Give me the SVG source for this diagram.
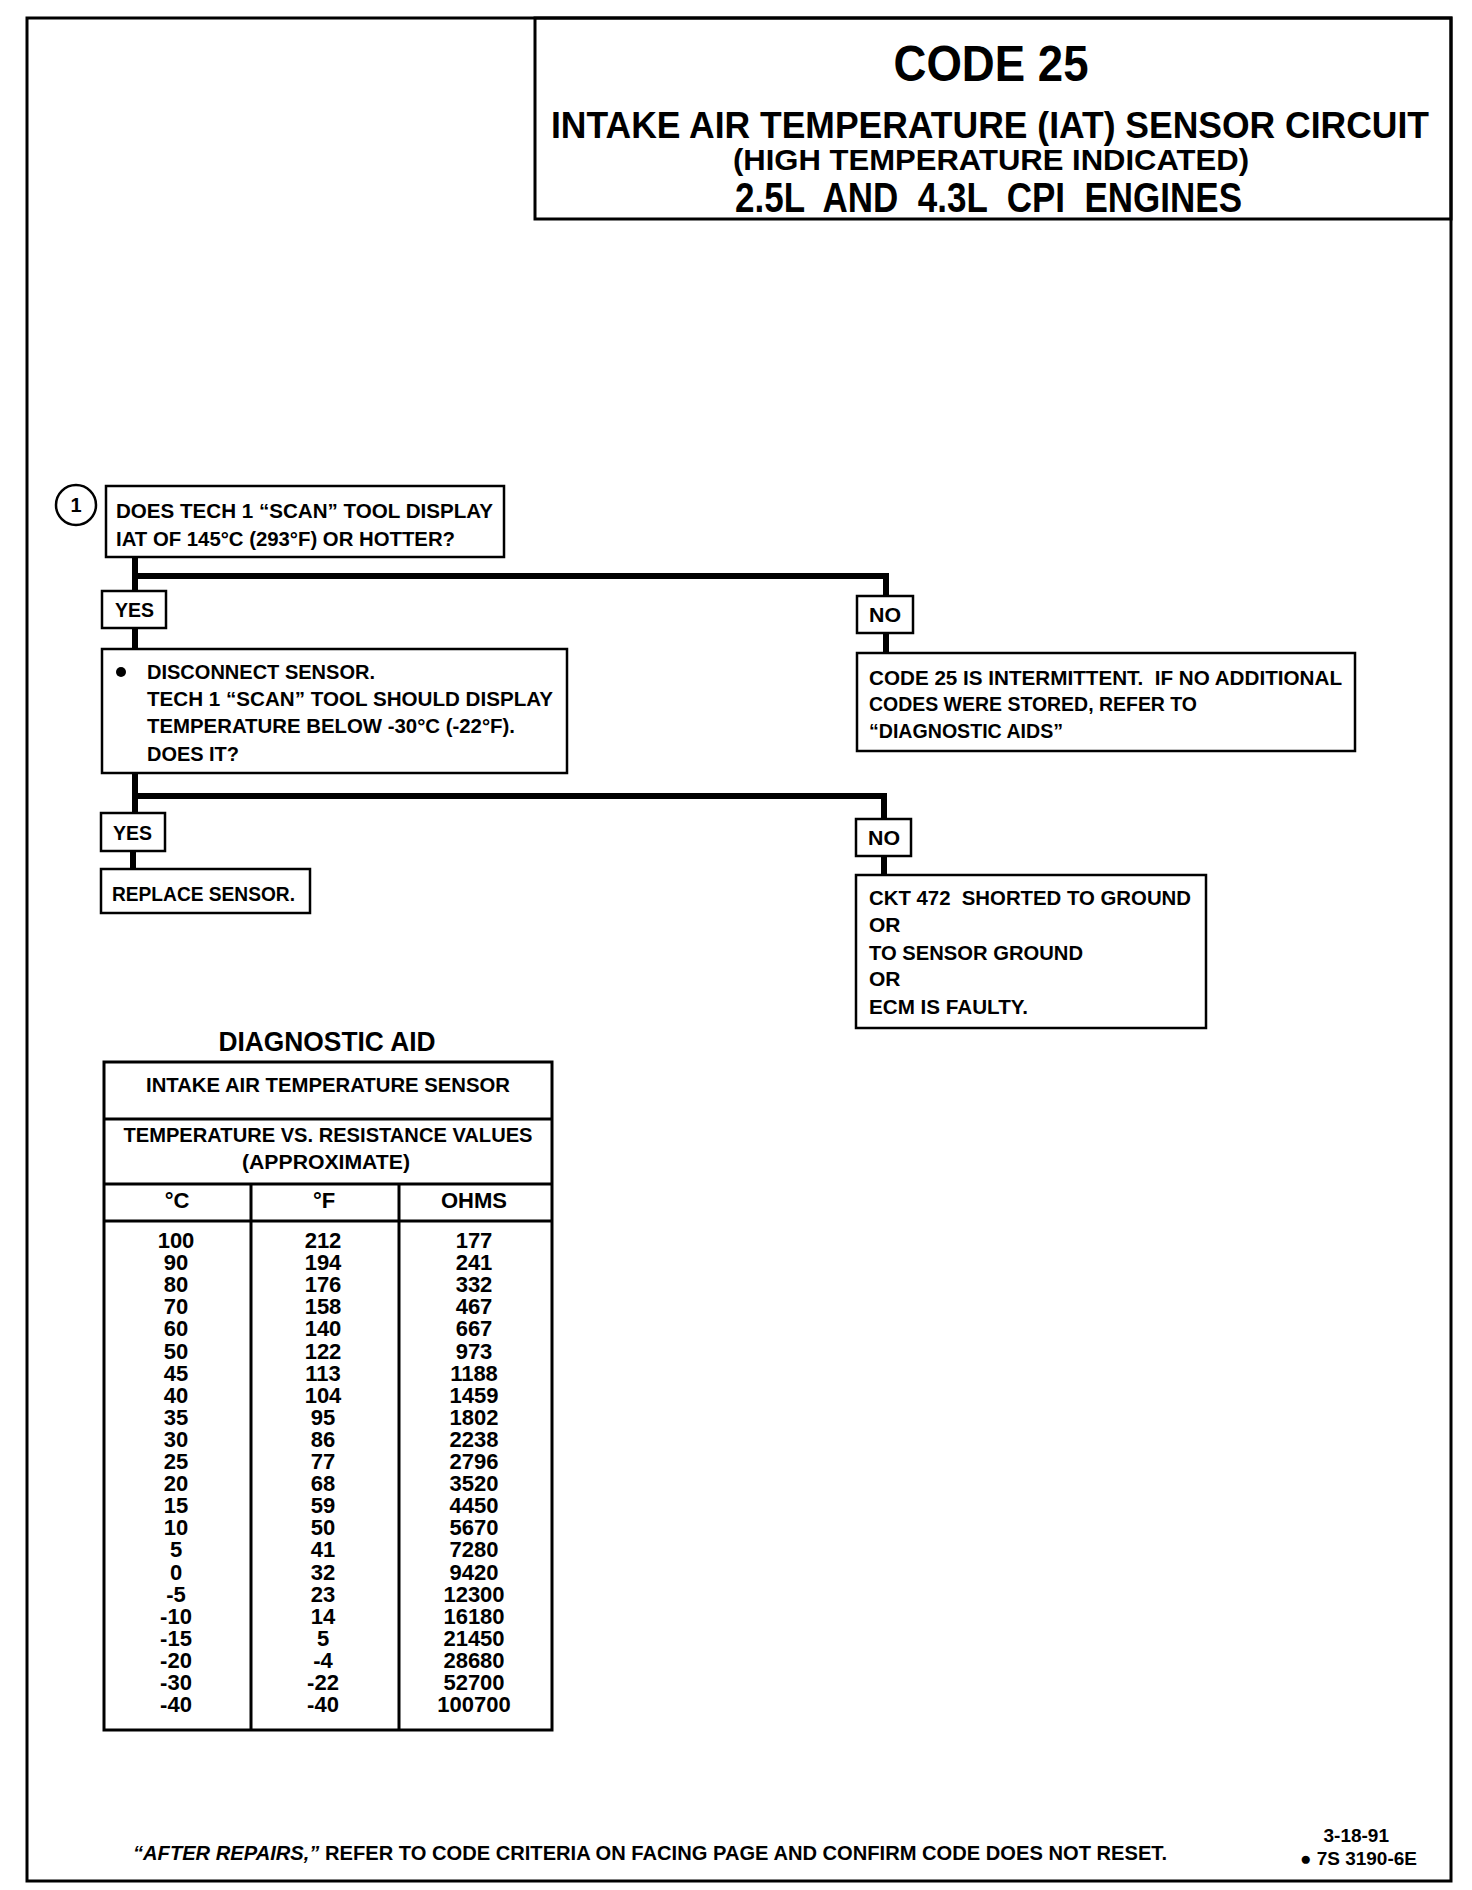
<svg xmlns="http://www.w3.org/2000/svg" width="1472" height="1890" viewBox="0 0 1472 1890">
<style>
text{font-family:"Liberation Sans",Arial,sans-serif;font-weight:bold;fill:#000}
.box{fill:#fff;stroke:#000;stroke-width:2.5}
.con{fill:none;stroke:#000;stroke-width:6}
.b{font-size:21px}
.d{font-size:22px;text-anchor:middle}
.tl{fill:none;stroke:#000;stroke-width:3}
</style>
<rect width="1472" height="1890" fill="#fff"/>
<rect x="27" y="18" width="1424" height="1863" fill="none" stroke="#000" stroke-width="3"/>
<g id="header">
<rect x="535" y="18" width="916" height="201" fill="none" stroke="#000" stroke-width="3"/>
<text x="991" y="81" font-size="50" text-anchor="middle" textLength="195" lengthAdjust="spacingAndGlyphs">CODE 25</text>
<text x="551" y="138" font-size="37" textLength="878" lengthAdjust="spacingAndGlyphs">INTAKE AIR TEMPERATURE (IAT) SENSOR CIRCUIT</text>
<text x="733" y="170" font-size="30" textLength="516" lengthAdjust="spacingAndGlyphs">(HIGH TEMPERATURE INDICATED)</text>
<text x="735" y="212" font-size="42" textLength="507" lengthAdjust="spacingAndGlyphs" xml:space="preserve">2.5L  AND  4.3L  CPI  ENGINES</text>
</g>
<g id="connectors">
<path class="con" d="M135 557 V591 M135 576 H886 V596 M886 633 V653 M135 628 V649 M135 773 V813 M135 796 H884 V819 M884 856 V875 M133 851 V869"/>
</g>
<g id="step1">
<circle cx="76" cy="505" r="20" fill="#fff" stroke="#000" stroke-width="2.5"/>
<text x="76" y="512" font-size="20" text-anchor="middle">1</text>
<rect class="box" x="106" y="486" width="398" height="71"/>
<text class="b" x="116" y="518" textLength="377" lengthAdjust="spacingAndGlyphs">DOES TECH 1 “SCAN” TOOL DISPLAY</text>
<text class="b" x="116" y="546" textLength="339" lengthAdjust="spacingAndGlyphs">IAT OF 145°C (293°F) OR HOTTER?</text>
</g>
<g id="yes1">
<rect class="box" x="102" y="591" width="64" height="37"/>
<text class="b" x="115" y="617" textLength="39" lengthAdjust="spacingAndGlyphs">YES</text>
</g>
<g id="step2">
<rect class="box" x="102" y="649" width="465" height="124"/>
<circle cx="121" cy="672" r="5"/>
<text class="b" x="147" y="679" textLength="228" lengthAdjust="spacingAndGlyphs">DISCONNECT SENSOR.</text>
<text class="b" x="147" y="706" textLength="406" lengthAdjust="spacingAndGlyphs">TECH 1 “SCAN” TOOL SHOULD DISPLAY</text>
<text class="b" x="147" y="733" textLength="368" lengthAdjust="spacingAndGlyphs">TEMPERATURE BELOW -30°C (-22°F).</text>
<text class="b" x="147" y="761" textLength="92" lengthAdjust="spacingAndGlyphs">DOES IT?</text>
</g>
<g id="no1">
<rect class="box" x="857" y="596" width="56" height="37"/>
<text class="b" x="869" y="622" textLength="32" lengthAdjust="spacingAndGlyphs">NO</text>
</g>
<g id="intermittent">
<rect class="box" x="857" y="653" width="498" height="98"/>
<text class="b" x="869" y="685" textLength="473" lengthAdjust="spacingAndGlyphs" xml:space="preserve">CODE 25 IS INTERMITTENT.  IF NO ADDITIONAL</text>
<text class="b" x="869" y="711" textLength="328" lengthAdjust="spacingAndGlyphs">CODES WERE STORED, REFER TO</text>
<text class="b" x="869" y="738" textLength="194" lengthAdjust="spacingAndGlyphs">“DIAGNOSTIC AIDS”</text>
</g>
<g id="yes2">
<rect class="box" x="101" y="813" width="64" height="38"/>
<text class="b" x="113" y="840" textLength="39" lengthAdjust="spacingAndGlyphs">YES</text>
</g>
<g id="replace">
<rect class="box" x="101" y="869" width="209" height="44"/>
<text class="b" x="112" y="901" textLength="183" lengthAdjust="spacingAndGlyphs">REPLACE SENSOR.</text>
</g>
<g id="no2">
<rect class="box" x="856" y="819" width="55" height="37"/>
<text class="b" x="868" y="845" textLength="32" lengthAdjust="spacingAndGlyphs">NO</text>
</g>
<g id="shorted">
<rect class="box" x="856" y="875" width="350" height="153"/>
<text class="b" x="869" y="905" textLength="322" lengthAdjust="spacingAndGlyphs" xml:space="preserve">CKT 472  SHORTED TO GROUND</text>
<text class="b" x="869" y="932">OR</text>
<text class="b" x="869" y="960" textLength="214" lengthAdjust="spacingAndGlyphs">TO SENSOR GROUND</text>
<text class="b" x="869" y="986">OR</text>
<text class="b" x="869" y="1014" textLength="159" lengthAdjust="spacingAndGlyphs">ECM IS FAULTY.</text>
</g>
<g id="diagnostic-aid">
<text x="327" y="1051" font-size="27" text-anchor="middle" textLength="217" lengthAdjust="spacingAndGlyphs">DIAGNOSTIC AID</text>
<rect class="tl" x="104" y="1062" width="448" height="668"/>
<path class="tl" d="M104 1119 H552 M104 1184 H552 M104 1221 H552 M251 1184 V1730 M399 1184 V1730"/>
<text class="b" x="328" y="1092" text-anchor="middle" textLength="364" lengthAdjust="spacingAndGlyphs">INTAKE AIR TEMPERATURE SENSOR</text>
<text class="b" x="328" y="1142" text-anchor="middle" textLength="409" lengthAdjust="spacingAndGlyphs">TEMPERATURE VS. RESISTANCE VALUES</text>
<text class="b" x="326" y="1169" text-anchor="middle" textLength="168" lengthAdjust="spacingAndGlyphs">(APPROXIMATE)</text>
<text class="d" x="177" y="1208" font-size="20">°C</text>
<text class="d" x="324" y="1208" font-size="20">°F</text>
<text class="d" x="474" y="1208" font-size="20">OHMS</text>
<g class="rows">
<text class="d" x="176" y="1248">100</text><text class="d" x="323" y="1248">212</text><text class="d" x="474" y="1248">177</text>
<text class="d" x="176" y="1270">90</text><text class="d" x="323" y="1270">194</text><text class="d" x="474" y="1270">241</text>
<text class="d" x="176" y="1292">80</text><text class="d" x="323" y="1292">176</text><text class="d" x="474" y="1292">332</text>
<text class="d" x="176" y="1314">70</text><text class="d" x="323" y="1314">158</text><text class="d" x="474" y="1314">467</text>
<text class="d" x="176" y="1336">60</text><text class="d" x="323" y="1336">140</text><text class="d" x="474" y="1336">667</text>
<text class="d" x="176" y="1359">50</text><text class="d" x="323" y="1359">122</text><text class="d" x="474" y="1359">973</text>
<text class="d" x="176" y="1381">45</text><text class="d" x="323" y="1381">113</text><text class="d" x="474" y="1381">1188</text>
<text class="d" x="176" y="1403">40</text><text class="d" x="323" y="1403">104</text><text class="d" x="474" y="1403">1459</text>
<text class="d" x="176" y="1425">35</text><text class="d" x="323" y="1425">95</text><text class="d" x="474" y="1425">1802</text>
<text class="d" x="176" y="1447">30</text><text class="d" x="323" y="1447">86</text><text class="d" x="474" y="1447">2238</text>
<text class="d" x="176" y="1469">25</text><text class="d" x="323" y="1469">77</text><text class="d" x="474" y="1469">2796</text>
<text class="d" x="176" y="1491">20</text><text class="d" x="323" y="1491">68</text><text class="d" x="474" y="1491">3520</text>
<text class="d" x="176" y="1513">15</text><text class="d" x="323" y="1513">59</text><text class="d" x="474" y="1513">4450</text>
<text class="d" x="176" y="1535">10</text><text class="d" x="323" y="1535">50</text><text class="d" x="474" y="1535">5670</text>
<text class="d" x="176" y="1557">5</text><text class="d" x="323" y="1557">41</text><text class="d" x="474" y="1557">7280</text>
<text class="d" x="176" y="1580">0</text><text class="d" x="323" y="1580">32</text><text class="d" x="474" y="1580">9420</text>
<text class="d" x="176" y="1602">-5</text><text class="d" x="323" y="1602">23</text><text class="d" x="474" y="1602">12300</text>
<text class="d" x="176" y="1624">-10</text><text class="d" x="323" y="1624">14</text><text class="d" x="474" y="1624">16180</text>
<text class="d" x="176" y="1646">-15</text><text class="d" x="323" y="1646">5</text><text class="d" x="474" y="1646">21450</text>
<text class="d" x="176" y="1668">-20</text><text class="d" x="323" y="1668">-4</text><text class="d" x="474" y="1668">28680</text>
<text class="d" x="176" y="1690">-30</text><text class="d" x="323" y="1690">-22</text><text class="d" x="474" y="1690">52700</text>
<text class="d" x="176" y="1712">-40</text><text class="d" x="323" y="1712">-40</text><text class="d" x="474" y="1712">100700</text>
</g>
</g>
<g id="footer">
<text x="133" y="1860" font-size="20" textLength="1034" lengthAdjust="spacingAndGlyphs"><tspan font-style="italic">“AFTER REPAIRS,”</tspan> REFER TO CODE CRITERIA ON FACING PAGE AND CONFIRM CODE DOES NOT RESET.</text>
<text x="1389" y="1842" font-size="19" text-anchor="end">3-18-91</text>
<text x="1417" y="1865" font-size="19" text-anchor="end">● 7S 3190-6E</text>
</g>
</svg>
